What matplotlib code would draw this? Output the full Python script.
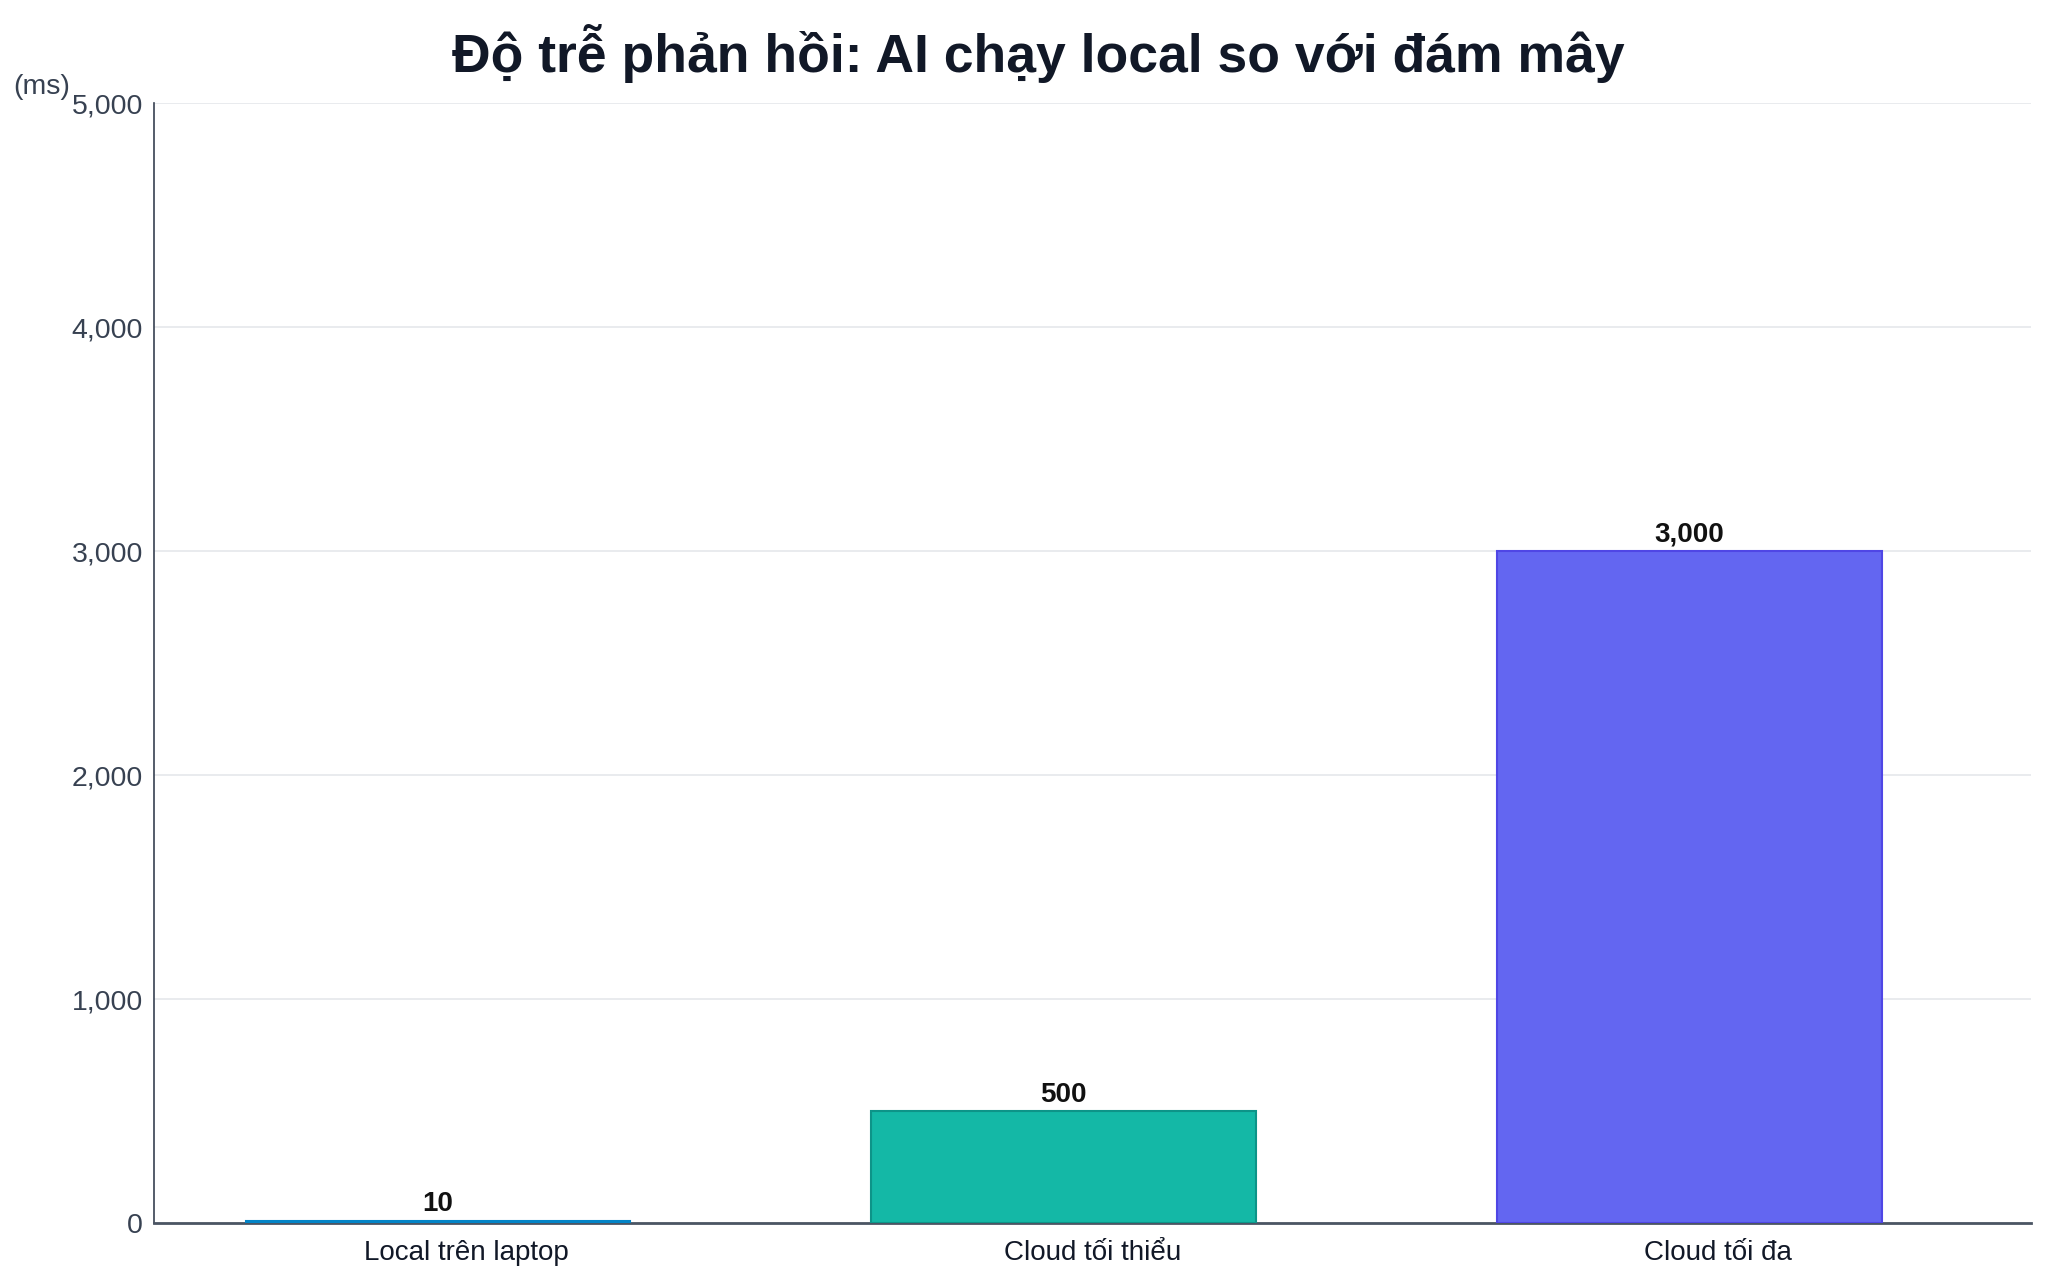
import numpy as np
import matplotlib
matplotlib.use("Agg")
import matplotlib.pyplot as plt

plt.rcParams['font.family'] = ['Liberation Sans', 'DejaVu Sans']

categories = ["Local trên laptop", "Cloud tối thiểu", "Cloud tối đa"]
latency_ms = [10, 500, 3000]
bar_colors = ["#0ea5e9", "#14b8a6", "#6366f1"]
edge_colors = ["#0284c7", "#0d9488", "#4f46e5"]
y_ticks = [0, 1000, 2000, 3000, 4000, 5000]

fig = plt.figure(figsize=(20.48, 12.8), dpi=100)
ax = fig.add_axes([0.0752, 0.0445, 0.9165, 0.875])

x = np.arange(len(categories))
bars = ax.bar(x - 0.046, latency_ms, width=0.615, color=bar_colors,
              edgecolor=edge_colors, linewidth=1.5, zorder=3)

for b, v in zip(bars, latency_ms):
    ax.text(b.get_x() + b.get_width() / 2, v + 15, f"{v:,}",
            ha="center", va="bottom", fontsize=20, fontweight="bold",
            color="#111111", zorder=4)

ax.set_xlim(-0.5, 2.5)
ax.set_ylim(0, 5000)
ax.set_xticks(x)
ax.set_xticklabels(categories, fontsize=20, color="#111827")
ax.set_yticks(y_ticks)
ax.set_yticklabels([f"{t:,}" for t in y_ticks], fontsize=20.5, color="#374151")
ax.tick_params(axis="both", length=0)
ax.tick_params(axis="x", pad=12)
ax.tick_params(axis="y", pad=8)

ax.grid(axis="y", color="#e5e7eb", linewidth=1.2, zorder=0)
for side in ["top", "right"]:
    ax.spines[side].set_visible(False)
ax.spines["left"].set_color("#374151")
ax.spines["left"].set_linewidth(1.2)
ax.spines["bottom"].set_color("#4b5563")
ax.spines["bottom"].set_linewidth(2)

fig.text(0.0063, 0.932, "(ms)", fontsize=20.5, color="#374151", ha="left", va="center")
fig.suptitle("Độ trễ phản hồi: AI chạy local so với đám mây", x=0.507, y=0.958,
             fontsize=38.5, fontweight="bold", color="#111827", va="center")

fig.savefig("out.png", dpi=100, facecolor="white")
